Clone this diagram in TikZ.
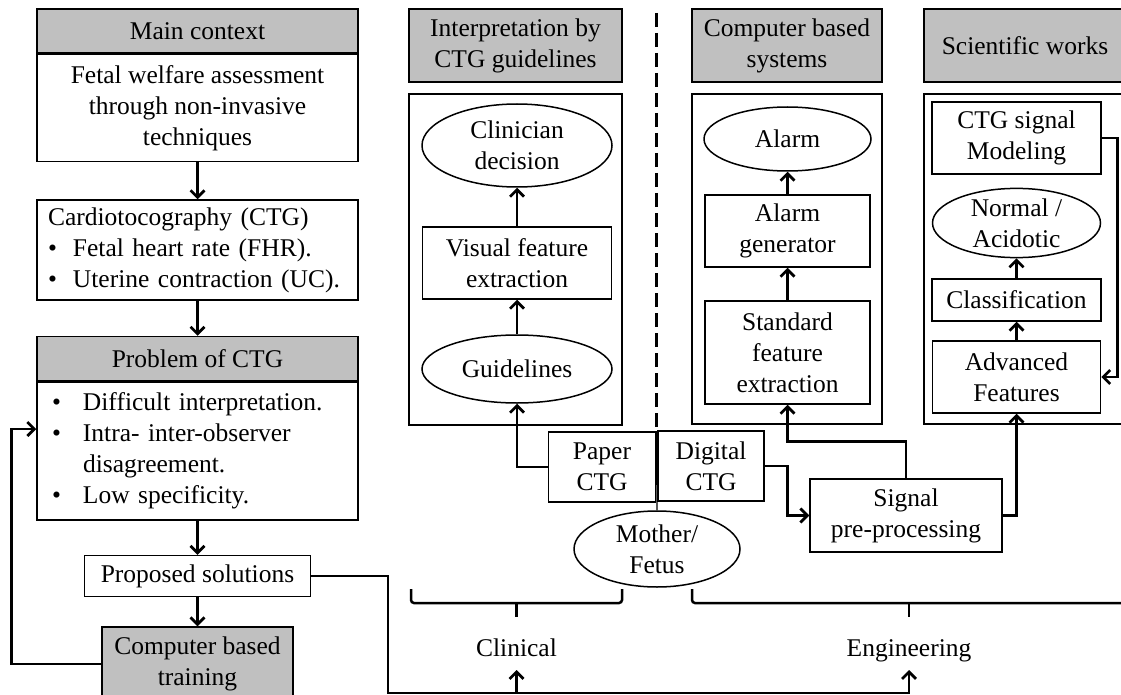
\documentclass[tikz,border=0pt]{standalone}
\usepackage{fontspec}
\setmainfont{Liberation Serif}
\usetikzlibrary{shapes.geometric,arrows.meta,positioning}
\definecolor{hdrgray}{RGB}{192,192,192}

\begin{document}
\begin{tikzpicture}[
    x=1pt, y=-1pt,
    font=\fontsize{25.5}{31}\selectfont,
    box/.style={rectangle, draw, line width=1.5pt, align=center, inner sep=0pt},
    hdr/.style={box, fill=hdrgray},
    oval/.style={ellipse, draw, line width=1.5pt, align=center, inner sep=0pt},
    frame/.style={rectangle, draw, line width=1.5pt, inner sep=0pt},
    tag/.style={inner sep=0pt, outer ysep=8pt, text depth=6pt},
    arrow/.style={-{Straight Barb[length=7pt,width=14pt]}, line width=2.7pt},
    bracket/.style={line width=2.5pt, rounded corners=3pt},
    divider/.style={line width=2.2pt, dash pattern=on 14pt off 6pt}
]
\useasboundingbox (0,0) rectangle (1121,695);

% left column
\node[hdr, minimum width=321pt, minimum height=44pt] (mainhdr) at (197.5,31) {Main context};
\node[box, minimum width=321pt, minimum height=107pt, below=0pt of mainhdr] (mainbody)
    {Fetal welfare assessment\\through non-invasive\\techniques};
\node[box, minimum height=100pt, text width=299pt, inner xsep=11pt, align=left,
      below=37pt of mainbody] (ctg)
    {Cardiotocography (CTG)\\
     \makebox[25pt][l]{•}Fetal heart rate (FHR).\\
     \makebox[25pt][l]{•}Uterine contraction (UC).};
\node[hdr, minimum width=321pt, minimum height=44pt, below=35pt of ctg] (probhdr) {Problem of CTG};
\node[box, minimum height=138pt, text width=299pt, inner xsep=11pt, align=left,
      below=0pt of probhdr] (probbody)
    {\hspace*{4pt}\makebox[31pt][l]{•}Difficult interpretation.\\
     \hspace*{4pt}\makebox[31pt][l]{•}Intra- inter-observer\\
     \hspace*{35pt}disagreement.\\
     \hspace*{4pt}\makebox[31pt][l]{•}Low specificity.};
\node[box, minimum width=226pt, minimum height=41pt, below=34pt of probbody] (proposed) {Proposed solutions};
\node[hdr, minimum width=191pt, minimum height=74pt, below=29pt of proposed] (cbt) {Computer based\\training};

\draw[arrow] (mainbody) -- (ctg);
\draw[arrow] (ctg) -- (probhdr);
\draw[arrow] (probbody) -- (proposed);
\draw[arrow] (proposed) -- (cbt);
\draw[arrow] (cbt.west) -- ++(-90,0) |- ([yshift=22pt]probbody.west);

% clinical column
\node[hdr, minimum width=213pt, minimum height=73pt] (interphdr) at (515.5,45.5) {Interpretation by\\CTG guidelines};
\node[frame, minimum width=213pt, minimum height=331pt] (interpframe) at (515.5,259.5) {};
\node[oval, minimum width=190pt, minimum height=83pt] (clinician) at (517,145.5) {Clinician\\decision};
\node[box, minimum width=189pt, minimum height=72pt] (visual) at (517,263) {Visual feature\\extraction};
\node[oval, minimum width=190pt, minimum height=68pt] (guidelines) at (517,369) {Guidelines};

\draw[arrow] (visual) -- (clinician);
\draw[arrow] (guidelines) -- (visual);

% computer based systems column
\node[hdr, minimum width=190pt, minimum height=73pt] (comphdr) at (787,45.5) {Computer based\\systems};
\node[frame, minimum width=190pt, minimum height=330pt] (compframe) at (787,259) {};
\node[oval, minimum width=167pt, minimum height=64pt] (alarm) at (787.5,139) {Alarm};
\node[box, minimum width=165pt, minimum height=72pt] (alarmgen) at (787.5,231) {Alarm\\generator};
\node[box, minimum width=165pt, minimum height=103pt] (stdfeat) at (787.5,352.5) {Standard\\feature\\extraction};

\draw[arrow] (alarmgen) -- (alarm);
\draw[arrow] (stdfeat) -- (alarmgen);

% scientific works column
\node[hdr, minimum width=202pt, minimum height=73pt] (scihdr) at (1025,45.5) {Scientific works};
\node[frame, minimum width=202pt, minimum height=330pt] (sciframe) at (1025,259) {};
\node[box, minimum width=169pt, minimum height=72pt] (ctgmodel) at (1016.5,138) {CTG signal\\Modeling};
\node[oval, minimum width=168pt, minimum height=68pt] (normal) at (1016.5,223) {Normal /\\Acidotic};
\node[box, minimum width=169pt, minimum height=42pt] (classif) at (1016.5,300) {Classification};
\node[box, minimum width=168pt, minimum height=72pt] (advfeat) at (1016.5,377) {Advanced\\Features};

\draw[arrow] (classif) -- (normal);
\draw[arrow] (advfeat) -- (classif);
\draw[arrow] (ctgmodel.east) -- ++(16,0) |- (advfeat.east);

% acquisition
\node[box, minimum width=107pt, minimum height=70pt] (paper) at (602,467) {Paper\\CTG};
\node[box, minimum width=106pt, minimum height=70pt] (digital) at (711,466) {Digital\\CTG};
\node[oval, minimum width=166pt, minimum height=76pt] (mother) at (657,549) {Mother/\\Fetus};
\node[box, minimum width=192pt, minimum height=73pt] (signal) at (906,515.5) {Signal\\pre-processing};

\coordinate (divtop) at (656.5,13);
\coordinate (divbot) at (656.5,431);
\draw[divider] (divtop) -- (divbot);
\draw[line width=1.2pt] (divbot) -- (mother.north);

\draw[arrow] (paper.west) -| (guidelines.south);
\draw[arrow] (digital.east) -- ++(23,0) |- (signal.west);
\draw[arrow] (signal.north) -- ++(0,-37) -| (stdfeat.south);
\draw[arrow] (signal.east) -| (advfeat.south);

% domains
\draw[bracket] (411,589) -- (411,603) -- (622,603) -- (622,589);
\draw[bracket] (516.5,603) -- (516.5,617);
\draw[bracket] (692,589) -- (692,603) -- (1130,603);
\draw[bracket] (909,603) -- (909,617);

\node[tag, anchor=base] (clinical) at (516.5,656) {Clinical};
\node[tag, anchor=base] (engineering) at (909,656) {Engineering};

\coordinate (busturn) at (388,693);
\draw[arrow] (proposed.east) -| (busturn) -| (engineering.south);
\draw[arrow] (clinical.south |- busturn) -- (clinical.south);
\end{tikzpicture}
\end{document}
